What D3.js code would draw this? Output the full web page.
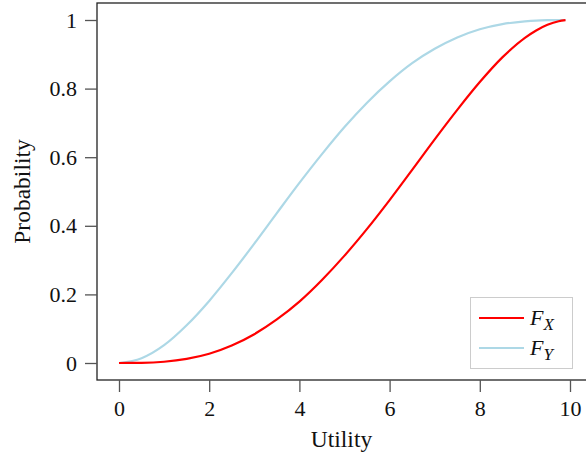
<!DOCTYPE html>
<html lang="en">
<head>
    <meta charset="UTF-8">
    <script src="https://d3js.org/d3.v7.min.js"></script>
    <style>
        body {margin: 0; background-color: #fff}
        svg {display: block; font-family: "Liberation Serif", "DejaVu Serif", serif;}
    </style>
</head>
<body>
<svg class="chart"></svg>
<script type="text/javascript">
    // values
    let utility = [0, 0.5, 1, 1.5, 2, 2.5, 3, 3.5, 4, 4.5, 5, 5.5, 6, 6.5, 7, 7.5, 8, 8.5, 9, 9.25, 9.5, 9.75, 9.9];
    let f_x = [0, 0.0005, 0.0037, 0.012, 0.027, 0.051, 0.084, 0.127, 0.179, 0.242, 0.313, 0.391, 0.475,
        0.563, 0.652, 0.738, 0.819, 0.891, 0.948, 0.9695, 0.986, 0.9964, 0.9994];
    let f_y = [0, 0.014, 0.052, 0.110, 0.181, 0.262, 0.348, 0.437, 0.525, 0.609, 0.688, 0.759, 0.821,
        0.874, 0.916, 0.949, 0.973, 0.988, 0.996, 0.9984, 0.9995, 0.9999, 1];
    let x_ticks = [0, 2, 4, 6, 8, 10];
    let y_ticks = [0, 0.2, 0.4, 0.6, 0.8, 1];
    let series = [
        {name: 'X', values: f_x, color: '#ff0000'},
        {name: 'Y', values: f_y, color: '#add8e6'}
    ];

    let chart_width = 586, chart_height = 457;
    let frame_left = 97, frame_top = 3, frame_bottom = 380, frame_right = 590;
    let tick_font = 22, title_font = 23.5;

    let x_range = d3.scaleLinear().domain([0, 10]).range([119, 570]);
    let y_range = d3.scaleLinear().domain([0, 1]).range([363, 20]);

    let svg = d3.select('.chart')
        .attr('width', chart_width)
        .attr('height', chart_height);

    // frame
    svg.append('rect')
        .attr('x', frame_left).attr('y', frame_top)
        .attr('width', frame_right - frame_left).attr('height', frame_bottom - frame_top)
        .attr('fill', 'none').attr('stroke', '#222').attr('stroke-width', 1.3);

    let x_axis = svg.append('g')
        .attr('transform', 'translate(0,' + frame_bottom + ')')
        .call(d3.axisBottom(x_range).tickValues(x_ticks).tickSize(12).tickPadding(8).tickFormat(d3.format('d')));
    let y_axis = svg.append('g')
        .attr('transform', 'translate(' + frame_left + ',0)')
        .call(d3.axisLeft(y_range).tickValues(y_ticks).tickSize(12).tickPadding(8).tickFormat(d => d));

    [x_axis, y_axis].forEach(a => {
        a.select('.domain').remove();
        a.selectAll('line').attr('stroke', '#555').attr('stroke-width', 1.3);
        a.selectAll('text').attr('fill', '#111')
            .style('font-size', tick_font + 'px')
            .style('font-family', '"Liberation Serif", serif');
    });

    svg.append('text')
        .attr('x', x_range(5) - 3)
        .attr('y', 447)
        .attr('text-anchor', 'middle')
        .attr('fill', '#111')
        .style('font-size', title_font + 'px')
        .text('Utility');

    svg.append('text')
        .attr('transform', 'translate(30,' + y_range(0.5) + ') rotate(-90)')
        .attr('text-anchor', 'middle')
        .attr('fill', '#111')
        .style('font-size', title_font + 'px')
        .text('Probability');

    let line = d3.line()
        .x((d, i) => x_range(utility[i]))
        .y(d => y_range(d))
        .curve(d3.curveMonotoneX);

    // blue drawn first, red on top
    series.slice().reverse().forEach(s => {
        svg.append('path')
            .attr('d', line(s.values))
            .attr('fill', 'none')
            .attr('stroke', s.color)
            .attr('stroke-width', 2.2);
    });

    // legend
    let legend = svg.append('g');
    legend.append('rect')
        .attr('x', 470.5).attr('y', 297.5)
        .attr('width', 102).attr('height', 71)
        .attr('fill', '#fff').attr('stroke', '#ccc').attr('stroke-width', 1);

    series.forEach((s, i) => {
        let y = 318 + i * 30;
        legend.append('line')
            .attr('x1', 479).attr('x2', 524)
            .attr('y1', y).attr('y2', y)
            .attr('stroke', s.color).attr('stroke-width', 2.2);
        let t = legend.append('text')
            .attr('x', 530).attr('y', y + 7)
            .attr('fill', '#111')
            .style('font-size', tick_font + 'px')
            .style('font-style', 'italic');
        t.append('tspan').text('F');
        t.append('tspan').attr('dy', 5).style('font-size', '17px').text(s.name);
    });
</script>
</body>
</html>
